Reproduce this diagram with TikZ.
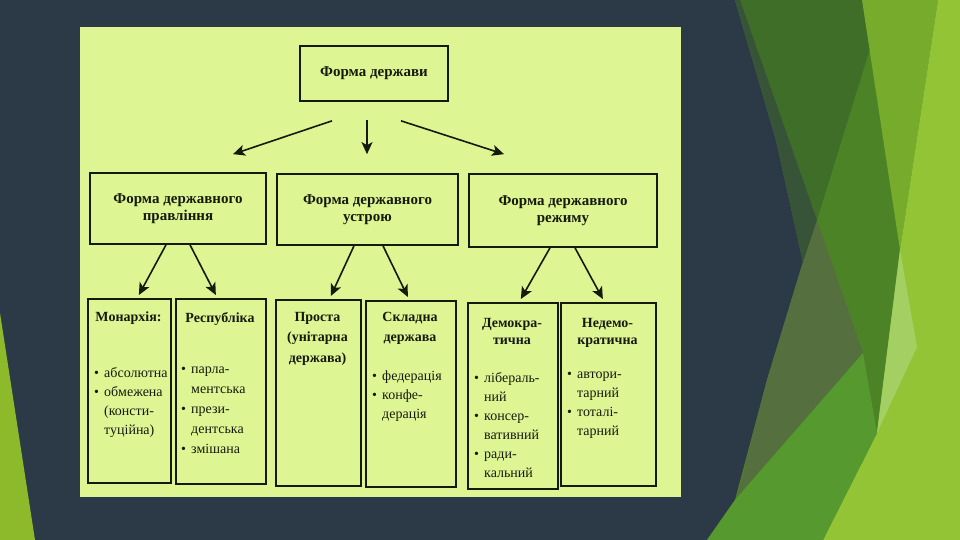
\documentclass[tikz,border=0pt]{standalone}
\usepackage{fontspec}
\setmainfont{Liberation Serif}
\usetikzlibrary{arrows.meta,positioning}

\definecolor{slate}{RGB}{43,58,70}
\definecolor{paper}{RGB}{222,245,148}
\definecolor{ink}{RGB}{22,26,12}
\definecolor{gdark}{RGB}{62,110,39}
\definecolor{gsliver}{RGB}{56,84,56}
\definecolor{gmid}{RGB}{75,131,38}
\definecolor{gtop}{RGB}{119,171,44}
\definecolor{glime}{RGB}{146,196,53}
\definecolor{gpale}{RGB}{164,207,99}
\definecolor{golive}{RGB}{86,111,63}
\definecolor{gbright}{RGB}{86,153,46}
\definecolor{gleft}{RGB}{140,186,43}

\tikzset{
  box/.style={draw=ink, line width=1.7pt, inner sep=0pt},
  midhd/.style={font=\bfseries\fontsize{15}{17}\selectfont, align=center, text=ink},
  hd/.style={font=\bfseries\fontsize{14}{20.5}\selectfont, align=center, inner sep=0pt, anchor=north, text=ink},
  itm/.style={font=\fontsize{14}{19}\selectfont, align=left, inner sep=0pt, anchor=north west, text=ink},
  arr/.style={-{Stealth[length=12pt,width=11pt,inset=3pt]}, line width=1.6pt, draw=ink},
}
\newcommand{\bul}{\makebox[10pt][l]{\textbullet}}
\newcommand{\cnt}{\hspace*{10pt}}

\begin{document}
\begin{tikzpicture}[x=1pt,y=-1pt]
    % Slide
    \fill[slate] (0,0) rectangle (960,540);
    \useasboundingbox (0,0) rectangle (960,540);
    \fill[gmid] (735,0) -- (960,0) -- (960,540) -- (707,540) -- (735,500) -- (767,380) -- (803,262) -- (776,140) -- cycle;
    \fill[golive] (803,262) -- (817,220) -- (863,353) -- (737,497) -- (767,380) -- cycle;
    \fill[gdark] (740,0) -- (885,0) -- (817,220) -- cycle;
    \fill[gsliver] (735,0) -- (740,0) -- (817,220) -- (803,262) -- (776,140) -- cycle;
    \fill[gtop] (862,0) -- (938,0) -- (900,250) -- cycle;
    \fill[glime] (938,0) -- (960,0) -- (960,540) -- (823,540) -- (877,433) -- (900,250) -- cycle;
    \fill[gpale] (900,250) -- (917,347) -- (877,433) -- cycle;
    \fill[gbright] (863,353) -- (877,433) -- (823,540) -- (707,540) -- (735,500) -- cycle;
    \fill[gleft] (0,313) -- (35,540) -- (0,540) -- cycle;
    % Scan
    \fill[paper] (80,27) rectangle (681,497);

    % Top level
    \node[box, midhd, minimum width=148pt, minimum height=55pt] (state) at (374,73.5) {Форма держави};
    \node[box, midhd, minimum width=176pt, minimum height=71pt] (gov) at (178,208.5) {Форма державного\\правління};
    \node[box, midhd, minimum width=181pt, minimum height=71pt] (struct) at (367.5,209.5) {Форма державного\\устрою};
    \node[box, midhd, minimum width=188pt, minimum height=73pt] (regime) at (563,210.5) {Форма державного\\режиму};

    \draw[arr] ([xshift=-42pt,yshift=-19pt]state.south) -- ([xshift=55pt,yshift=18pt]gov.north);
    \draw[arr] ([xshift=-7pt,yshift=-18pt]state.south) -- ([xshift=-0.5pt,yshift=19pt]struct.north);
    \draw[arr] ([xshift=27pt,yshift=-19pt]state.south) -- ([xshift=-59pt,yshift=19pt]regime.north);

    % Bottom boxes
    \node[box, minimum width=83pt, minimum height=184pt, anchor=north west] (mon) at (87,298) {};
    \node[box, minimum width=90pt, minimum height=185pt, anchor=north west] (rep) at (175,298) {};
    \node[box, minimum width=85pt, minimum height=186pt, anchor=north west] (simple) at (275,299) {};
    \node[box, minimum width=90pt, minimum height=186pt, anchor=north west] (compound) at (365,300) {};
    \node[box, minimum width=90pt, minimum height=186pt, anchor=north west] (dem) at (467,302) {};
    \node[box, minimum width=95pt, minimum height=183pt, anchor=north west] (nondem) at (560,302) {};

    \draw[arr] ([xshift=-12pt]gov.south) -- ([xshift=9.5pt,yshift=3pt]mon.north);
    \draw[arr] ([xshift=12pt]gov.south) -- ([xshift=-5pt,yshift=3pt]rep.north);
    \draw[arr] ([xshift=-13.5pt]struct.south) -- ([xshift=12.5pt,yshift=3pt]simple.north);
    \draw[arr] ([xshift=15.5pt]struct.south) -- ([xshift=-3pt,yshift=3pt]compound.north);
    \draw[arr] ([xshift=-13pt]regime.south) -- ([xshift=8pt,yshift=3pt]dem.north);
    \draw[arr] ([xshift=12pt]regime.south) -- ([xshift=-5.5pt,yshift=3pt]nondem.north);

    % Texts
    \node[hd] (monh) at (128.5,312) {Монархія:};
    \node[hd] (reph) at (220,312) {Республіка};
    \node[hd] (simpleh) at (317.5,312) {Проста\\(унітарна\\держава)};
    \node[hd] (compoundh) at (410,312) {Складна\\держава};
    \node[hd, font=\bfseries\fontsize{14}{17.5}\selectfont] (demh) at (512,318) {Демокра-\\тична};
    \node[hd, font=\bfseries\fontsize{14}{17.5}\selectfont] (nondemh) at (607.5,318) {Недемо-\\кратична};

    \node[itm] (moni) at (94,367) {\bul абсолютна\\\bul обмежена\\\cnt(консти-\\\cnt туційна)};
    \node[itm, font=\fontsize{14}{20}\selectfont] (repi) at (181,367) {\bul парла-\\\cnt ментська\\\bul прези-\\\cnt дентська\\\bul змішана};
    \node[itm] (compoundi) at (372,371) {\bul федерація\\\bul конфе-\\\cnt дерація};
    \node[itm] (demi) at (474,372) {\bul лібераль-\\\cnt ний\\\bul консер-\\\cnt вативний\\\bul ради-\\\cnt кальний};
    \node[itm] (nondemi) at (567,372) {\bul автори-\\\cnt тарний\\\bul тоталі-\\\cnt тарний};
\end{tikzpicture}
\end{document}
